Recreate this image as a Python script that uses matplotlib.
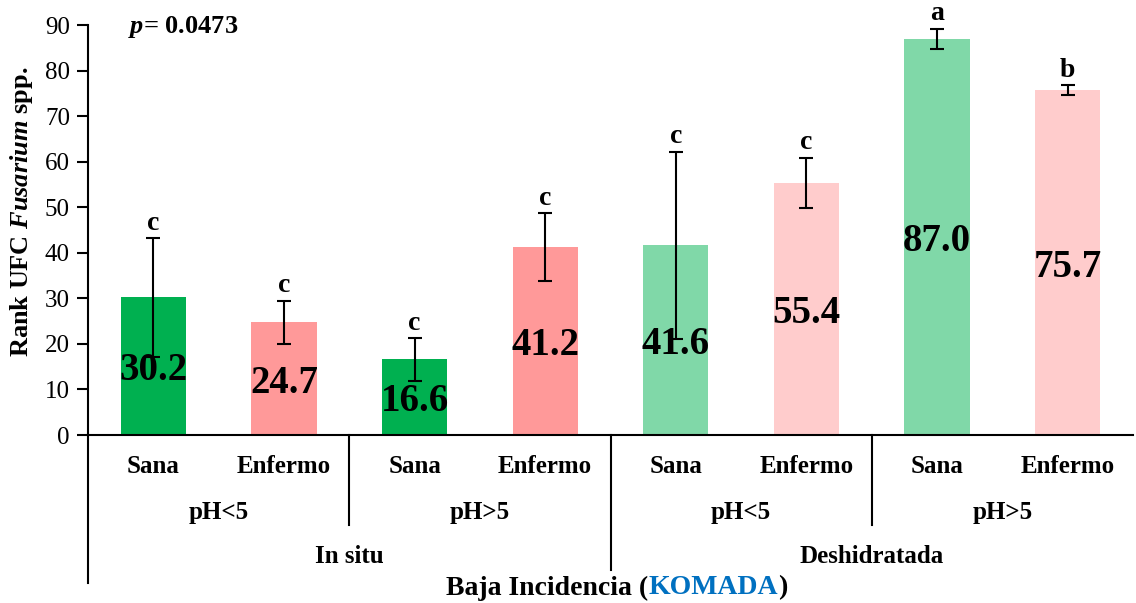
import numpy as np
import matplotlib
matplotlib.use('Agg')
import matplotlib.pyplot as plt

plt.rcParams.update({
    'font.family': 'Liberation Serif',
    'mathtext.fontset': 'custom',
    'mathtext.it': 'Liberation Serif:italic:bold',
    'mathtext.rm': 'Liberation Serif:bold',
    'mathtext.bf': 'Liberation Serif:bold',
})

# ---------------------------------------------------------------------------
# Data
# ---------------------------------------------------------------------------
estado = ['Sana', 'Enfermo', 'Sana', 'Enfermo', 'Sana', 'Enfermo', 'Sana', 'Enfermo']
ph_groups = ['pH<5', 'pH>5', 'pH<5', 'pH>5']
muestra = ['In situ', 'Deshidratada']
values = [30.2, 24.7, 16.6, 41.2, 41.6, 55.4, 87.0, 75.7]
errors = [13.0, 4.8, 4.7, 7.5, 20.6, 5.5, 2.2, 1.1]
letters = ['c', 'c', 'c', 'c', 'c', 'c', 'a', 'b']
colours = ['#00B050', '#FF9999', '#00B050', '#FF9999',
           '#80D8A8', '#FFCCCC', '#80D8A8', '#FFCCCC']
p_value = '0.0473'

W, H = 1136, 603
fig = plt.figure(figsize=(W / 100, H / 100), dpi=100)
ax = fig.add_axes([88 / W, 1 - 435 / H, 1045 / W, 410 / H])

x = np.arange(len(values))
ax.bar(x, values, width=0.5, color=colours, zorder=2)
ax.errorbar(x, values, yerr=errors, fmt='none', ecolor='black',
            elinewidth=1.5, capsize=5, capthick=1.5, zorder=3)

for i, (v, e, l) in enumerate(zip(values, errors, letters)):
    ax.text(i, v / 2, f'{v:.1f}', ha='center', va='center_baseline',
            fontsize=28, fontweight='bold', zorder=4)
    ax.text(i, v + e + 0.5, l, ha='center', va='bottom',
            fontsize=20, fontweight='bold')

ax.set_xlim(-0.5, 7.5)
ax.set_ylim(0, 90)
ax.set_yticks(np.arange(0, 91, 10))
ax.tick_params(axis='y', labelsize=18, length=8, width=1.5, pad=5, direction='out')
ax.tick_params(axis='x', length=0, labelbottom=False)
for s in ['top', 'right']:
    ax.spines[s].set_visible(False)
for s in ['left', 'bottom']:
    ax.spines[s].set_linewidth(1.5)

fig.text(22 / W, 1 - 212 / H, r'Rank UFC $\mathit{Fusarium}$ spp.', fontsize=19,
         fontweight='bold', rotation=90, ha='center', va='center')

ax.text(-0.194, 89.5, r'$\mathit{p}$= ' + p_value, fontsize=19,
        fontweight='bold', ha='left', va='center')

# hierarchical x axis
tr = ax.get_xaxis_transform()
for i, lab in enumerate(estado):
    ax.text(i, -0.076, lab, transform=tr, ha='center', va='center',
            fontsize=18, fontweight='bold')
for j, lab in enumerate(ph_groups):
    ax.text(2 * j + 0.5, -0.19, lab, transform=tr, ha='center', va='center',
            fontsize=18, fontweight='bold')
for k, lab in enumerate(muestra):
    ax.text(4 * k + 1.5, -0.296, lab, transform=tr, ha='center', va='center',
            fontsize=18, fontweight='bold')

for xs in [1.5, 5.5]:
    ax.plot([xs, xs], [0, -0.22], transform=tr, color='black', lw=1.5, clip_on=False)
ax.plot([3.5, 3.5], [0, -0.33], transform=tr, color='black', lw=1.5, clip_on=False)
ax.plot([-0.5, -0.5], [0, -0.36], transform=tr, color='black', lw=1.5, clip_on=False)

# axis title with coloured part
parts = [('Baja Incidencia (', 'black'), ('KOMADA', '#0070C0'), (')', 'black')]
y_title = 1 - 588 / H
texts = [fig.text(0, y_title, txt, color=col, fontsize=20, fontweight='bold',
                  ha='left', va='center') for txt, col in parts]
fig.canvas.draw()
r = fig.canvas.get_renderer()
widths = [tt.get_window_extent(r).width for tt in texts]
x0 = 617 - sum(widths) / 2
for tt, w in zip(texts, widths):
    tt.set_position((x0 / W, y_title))
    x0 += w

fig.savefig('out.png', dpi=100)
